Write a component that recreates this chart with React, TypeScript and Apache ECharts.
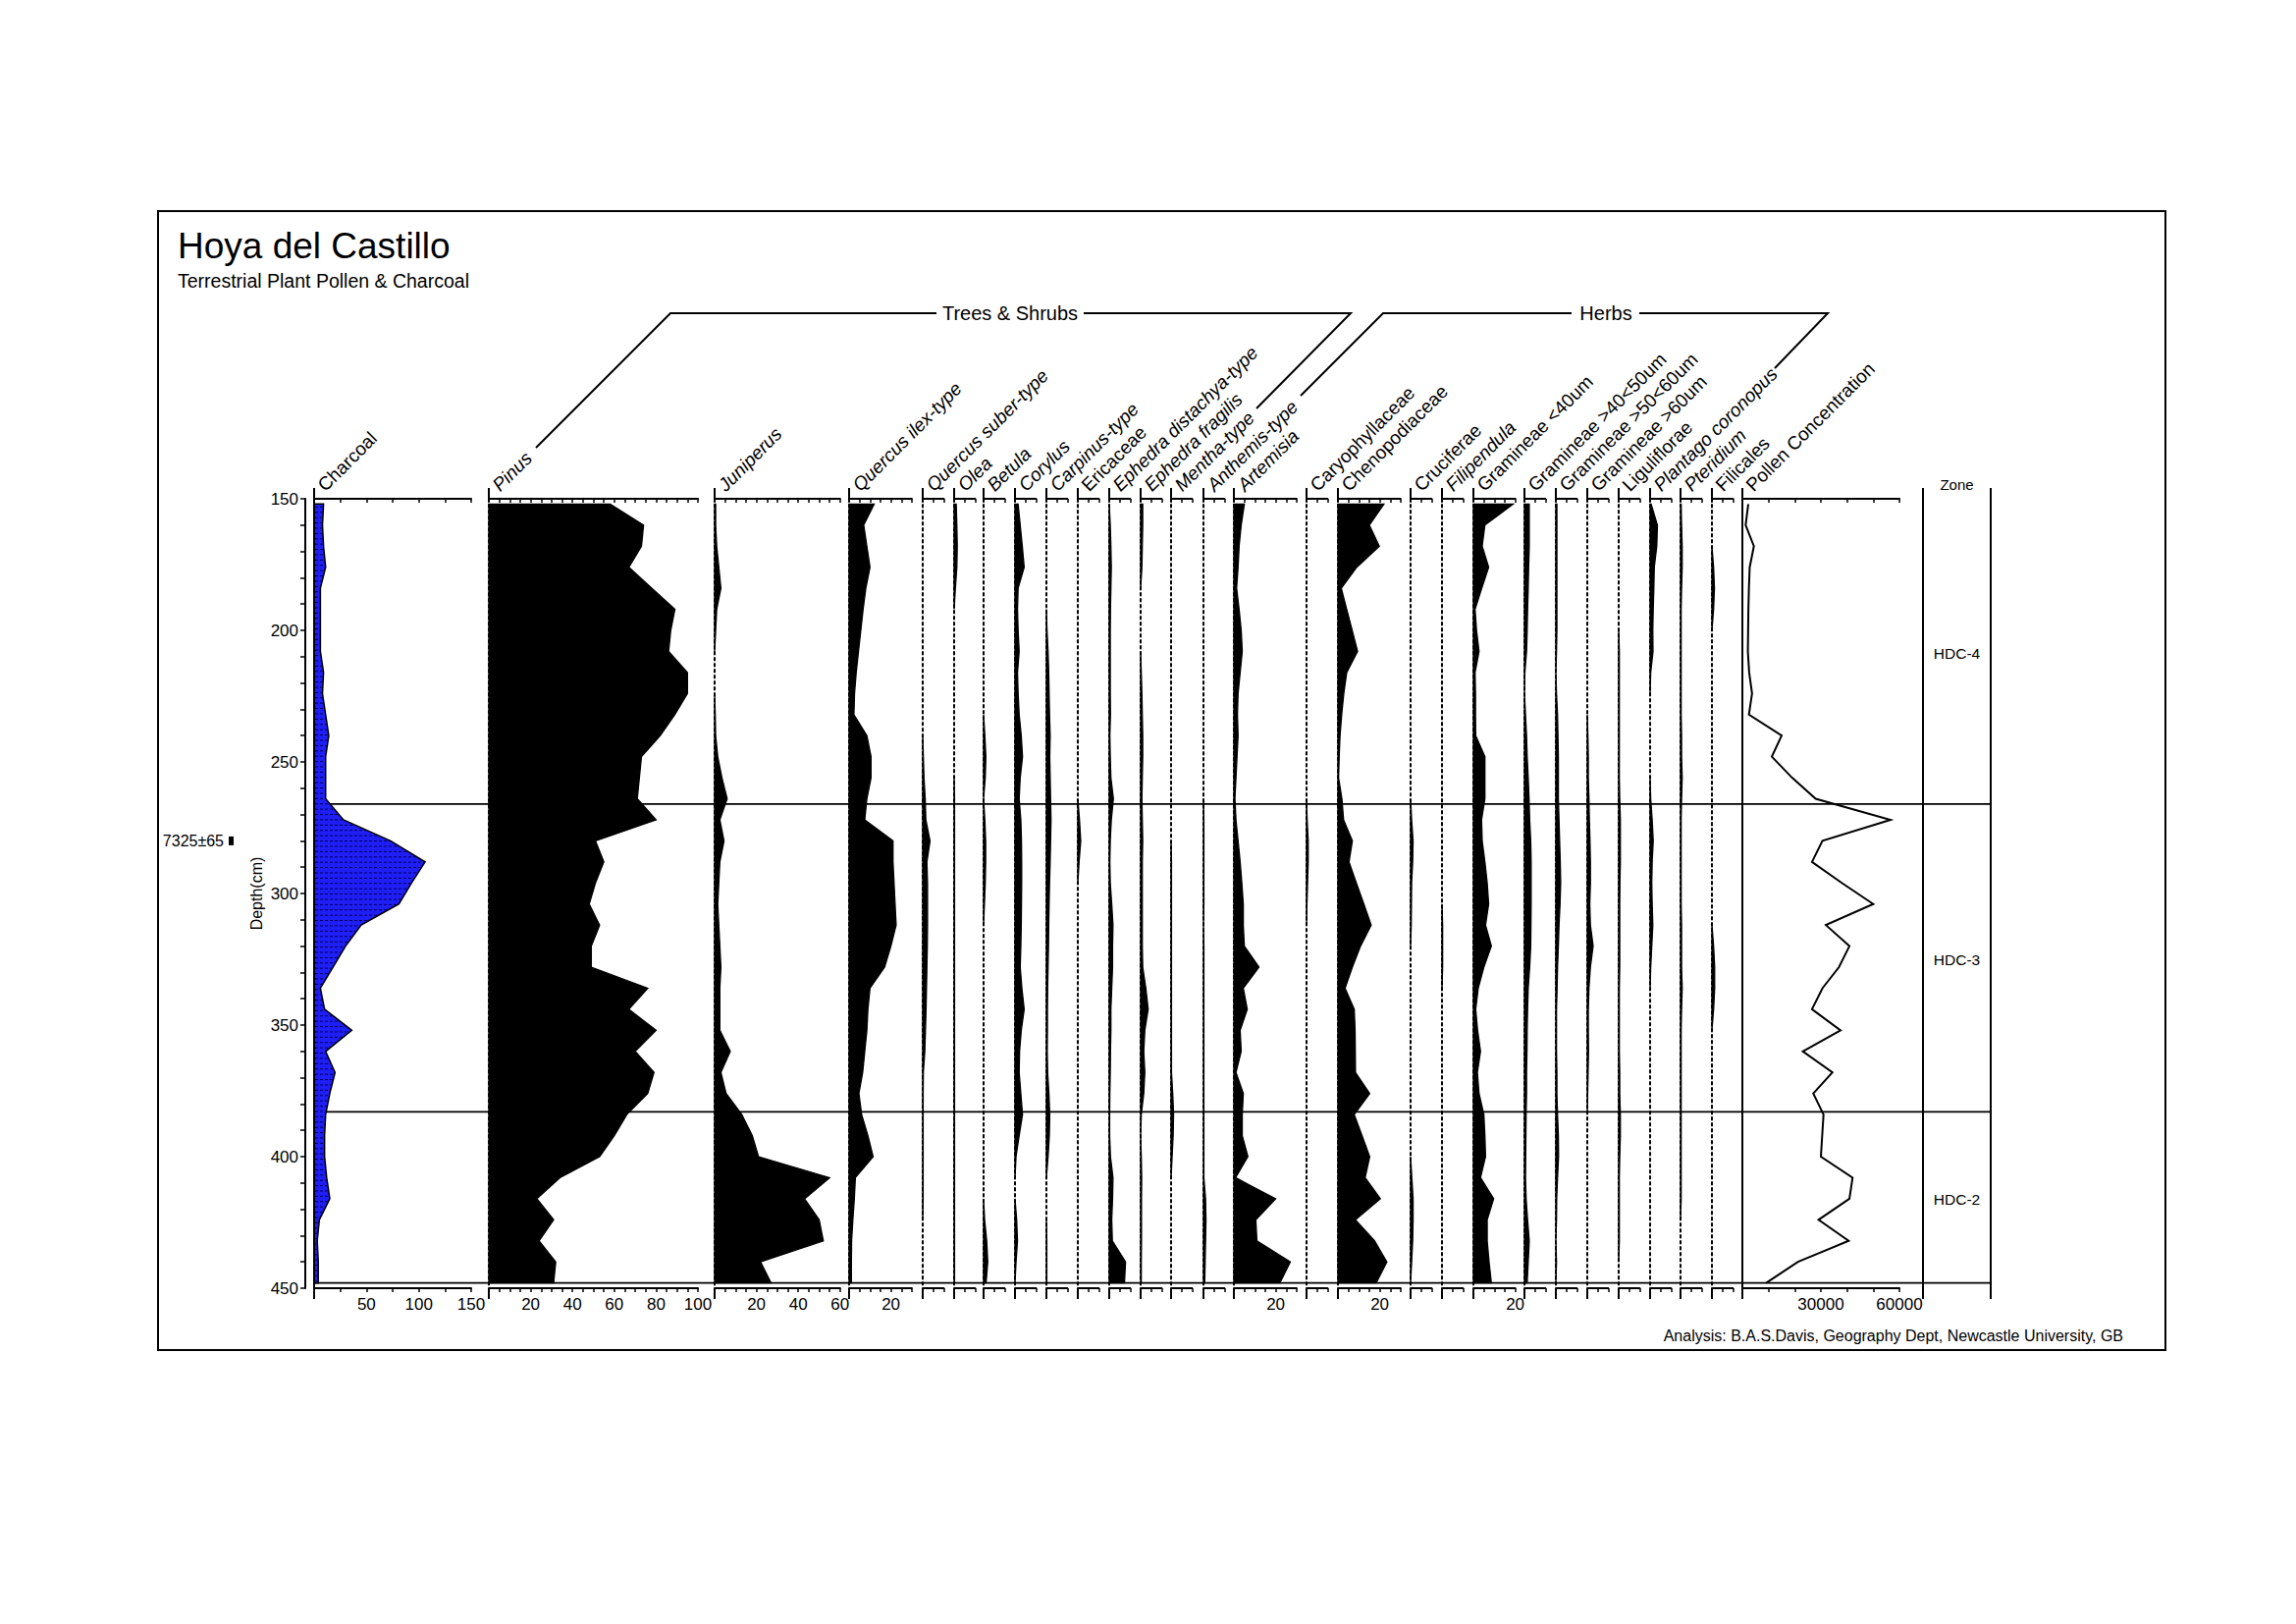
import React, { useEffect, useRef } from "react";
import * as echarts from "echarts";

// ---------------- DATA ----------------
const depths = [152,160,168,176,184,192,200,208,216,224,232,240,248,256,264,272,280,288,296,304,312,320,328,336,344,352,360,368,376,384,392,400,408,416,424,432,440,448];

const charcoal = [9,8,9,11,6,6,6,6,9,8,11,14,11,11,11,28,73,106,93,81,45,30,18,6,10,36,11,20,15,11,10,10,12,15,5,3,4,4];
const pinus = [58,74,73,67,78,89,87,86,95,95,89,82,73,72,71,80,51,55,51,48,53,49,49,76,67,80,70,79,76,66,60,53,34,23,31,24,32,31];
const juniperus = [0.5,0.5,1,2,3,1,0.5,0,0,0,0.3,0.5,1.5,3.5,6,2.5,4.5,2.5,2,1.5,2,2.5,3,2.5,2.5,2.5,7.5,3,5.5,13,18,21,55,43,50,52,22,27];
const quercusIlex = [12,7,8.5,10,8,6.7,5.6,4.5,3.4,2.6,2.3,8.5,10.5,10.5,8.5,7.5,21,21,21.5,22,22.5,20,17,10,9,8.5,7.5,6.5,4.7,6,9,11.5,3,2.5,1.8,1.2,1.1,1.1];
const quercusSuber = [0,0,0,0,0,0,0,0,0,0,0,0,0.3,0.6,1.2,1.5,3.5,2,2.3,2.3,2.3,2.2,2,1.8,1.6,1.3,1,0.3,0.2,0.2,0.2,0.2,0.2,0.2,0,0,0,0];
const olea = [1,1.3,1.5,1.3,0.6,0,0,0,0,0,0,0,0,0,0.2,0.2,0.2,0.2,0.2,0.2,0.2,0.2,0.2,0.2,0.2,0.2,0.2,0.2,0.2,0.2,0.2,0.2,0.2,0.2,0.2,0.2,0.2,0.2];
const betula = [0,0,0,0,0,0,0,0,0,0,0,0.6,1.1,0.8,0,0.6,1,1,0.8,0.4,0,0,0,0,0,0,0,0,0,0,0,0,0,0,0.5,1.5,2,1.2];
const corylus = [1.5,2.5,3.5,4.4,1.5,1.2,1.5,2,1.2,1.5,2,3,3.6,2.5,2,2.8,3.1,3.2,3.2,3.1,3,2.8,2.5,3.3,4.4,3,2.2,2,2.8,3.6,2,0.5,0,0,0.8,1.2,0.5,0];
const carpinus = [0,0,0,0,0,0,0.3,0.8,1.1,1.3,1.5,1.8,1.6,1.8,2,2.2,2,1.8,1.5,1.3,1.1,1,0.8,0.6,0.5,0.5,0.4,0.6,1.2,1.6,1.4,0.8,0,0,0,0.2,0.2,0.2];
const ericaceae = [0,0,0,0,0,0,0,0,0,0,0,0,0,0,0,0.8,1.4,0.6,0,0,0,0,0,0,0,0,0,0,0,0,0,0,0,0,0,0,0,0];
const ephedraDistachya = [0,0.5,0.8,1,0.8,0.6,0.5,0.5,0.5,0.5,0.6,0.3,0.5,0.8,2,1,0.5,0.3,0.5,1.2,1.8,1.6,1.6,1.2,0.8,0.8,0.6,0.5,0.3,0.2,0.2,0.6,1.8,1.6,1.2,1.5,7.8,7.3];
const ephedraFragilis = [1,1,0.8,0.6,0,0,0,0,0.3,0.6,0.8,1,1,0.8,0.6,0.8,1,0.8,0.8,0.8,0.8,0.8,1,2.5,3.6,2,1.5,2,1.5,0.3,0,0.3,0.5,0.4,0.4,0.4,0.3,0.3];
const mentha = [0,0,0,0,0,0,0,0,0,0,0,0,0,0,0,0,0,0.2,0.2,0.2,0.2,0.2,0.2,0.2,0.2,0.2,0.2,0.2,0.8,1.2,1,0.5,0,0,0,0,0,0];
const anthemis = [0,0,0,0,0,0,0,0,0,0,0,0,0,0,0,0.2,0.2,0.2,0.2,0.2,0,0.2,0.2,0.2,0.2,0.2,0.2,0.2,0.2,0.2,0.2,0.2,0.2,1,1.2,1,0.8,0.6];
const artemisia = [5,3.5,2.5,2,1.3,2.5,3.5,4,3,2,1.7,2,1.5,1,0.5,1,2,3,3.8,4.5,4.5,5,12,4.5,6.4,3,3.5,1,4.5,4,4,6.7,0.8,20,10.5,11,27,22];
const caryophyllaceae = [0,0,0,0,0,0,0,0,0,0,0,0,0,0,0,0.3,0.8,0.8,0.5,0.2,0,0,0,0,0,0,0,0,0,0,0,0,0,0,0,0,0,0];
const chenopodiaceae = [22,15,19.8,9,1.6,4.2,6.8,9.4,4.2,2.8,1.8,1,0.6,0.3,1.9,2.7,6.9,5.3,8.8,12.4,15.9,10.8,6.9,3.4,7.8,8.2,8.3,8.4,15.2,7.8,11.5,15.2,13,20.3,8.4,17.5,23.4,18.3];
const cruciferae = [0,0,0,0,0,0,0,0,0,0,0,0,0,0,0,0.5,1.2,1,0.5,0.4,0.3,0,0,0,0,0,0,0,0,0,0,0,0.6,1.2,1.2,1,0.5,0];
const filipendula = [0,0,0,0,0,0,0,0,0,0,0,0,0,0,0,0,0,0,0,0,0.3,0.3,0.3,0,0,0,0,0,0,0,0,0,0,0,0,0,0,0];
const gramineae40 = [19,5.5,4.2,7.3,4,0.8,1.5,2.7,0.8,1,1,1.1,5.5,5.5,5.5,3.9,4.2,5.5,6.6,7.3,5.8,8.6,5,2.3,1.1,2,3.4,1.9,2.7,5,5.5,5.8,3.4,9.7,6.6,6.6,7.5,8.6];
const gramineae4050 = [2.3,2.3,2.3,2,1.8,1.5,1.3,1,0.2,0,0.5,1,1.3,1.8,2.2,2.5,3,3.2,3.2,3.2,3.1,3,2.5,1.8,1.5,1.3,1.2,1,1,0.8,0.7,0.6,0.5,0.8,1.5,2.3,1.8,1.3];
const gramineae5060 = [0.5,0.5,0.5,0.5,0.5,0.5,0.5,0.3,0,0.3,0.8,1,1.2,1.2,1.2,1.5,1.8,2.1,2.3,2,1.5,1.2,0.8,0.6,0.3,0.3,0.3,0.5,0.5,0.8,1.2,1.3,0.8,0.4,0.3,0,0.3,0];
const gramineae60 = [0,0,0,0,0,0,0,0,0,0,0,0.3,0.5,0.5,0.8,1,1.3,1.5,1.5,1.2,1.5,2.8,1.5,0.8,0.5,0.5,0.6,0.4,0.2,0,0,0,0,0,0,0,0,0];
const liguliflorae = [0,0,0,0,0,0,0,0.3,0.3,0.3,0.3,0.3,0.3,0.3,0.5,0.8,0.8,0.8,0.6,0.5,0.5,0.5,0.5,0.3,0.3,0.3,0.3,0.5,0.5,0.8,0.8,0.5,0.3,0.3,0.3,0.3,0,0];
const plantago = [0.5,3.5,3.2,2,1.8,1.5,1.3,1.4,0.3,0,0,0,0,0,0.3,1,1.5,1,0.8,1,1.3,0.8,0.3,0,0,0,0,0,0,0,0,0,0,0,0,0,0,0];
const pteridium = [0.3,0.5,0.8,0.8,0.5,0.3,0.3,0.3,0.3,0.3,0.3,0.5,0.5,0.8,0.5,0.3,0.3,0.3,0.3,0.3,0.5,0.5,0.5,0.8,0.5,0.3,0.3,0.3,0.3,0.3,0.3,0.3,0.3,0.3,0,0,0,0];
const filicales = [0,0,0,0.8,1.2,0.8,0,0,0,0,0,0,0,0,0,0,0,0,0,0,0,0.8,1.3,1.3,0.8,0,0,0,0,0,0,0,0,0,0,0,0,0];
const pollenConcentration = [2250,1250,4400,2800,2500,2300,2200,2100,2600,3700,2500,15000,11250,19000,28000,56600,30600,26600,38000,50000,31900,40900,36900,30600,26600,37500,23100,34400,27100,31000,30500,30000,42100,40900,29100,40600,21250,9100];

const zoneNames = ["HDC-4", "HDC-3", "HDC-2"];
const zoneBounds = [150, 266, 383, 448];
const dateLabel = "7325\u00b165";
const dateDepth = 280;

// panels table (built from the arrays above)
const panels: any[] = [
  { name: "Charcoal", values: charcoal, max: 150, tick: 25, labelStep: 50, italic: false, kind: "charcoal" },
  { name: "Pinus", values: pinus, max: 100, tick: 5, labelStep: 20, italic: true, kind: "fill" },
  { name: "Juniperus", values: juniperus, max: 60, tick: 5, labelStep: 20, italic: true, kind: "fill" },
  { name: "Quercus ilex-type", values: quercusIlex, max: 30, tick: 5, labelStep: 20, italic: true, kind: "fill" },
  { name: "Quercus suber-type", values: quercusSuber, max: 10, tick: 5, labelStep: 0, italic: true, kind: "fill" },
  { name: "Olea", values: olea, max: 10, tick: 5, labelStep: 0, italic: true, kind: "fill" },
  { name: "Betula", values: betula, max: 10, tick: 5, labelStep: 0, italic: true, kind: "fill" },
  { name: "Corylus", values: corylus, max: 10, tick: 5, labelStep: 0, italic: true, kind: "fill" },
  { name: "Carpinus-type", values: carpinus, max: 10, tick: 5, labelStep: 0, italic: true, kind: "fill" },
  { name: "Ericaceae", values: ericaceae, max: 10, tick: 5, labelStep: 0, italic: false, kind: "fill" },
  { name: "Ephedra distachya-type", values: ephedraDistachya, max: 10, tick: 5, labelStep: 0, italic: true, kind: "fill" },
  { name: "Ephedra fragilis", values: ephedraFragilis, max: 10, tick: 5, labelStep: 0, italic: true, kind: "fill" },
  { name: "Mentha-type", values: mentha, max: 10, tick: 5, labelStep: 0, italic: true, kind: "fill" },
  { name: "Anthemis-type", values: anthemis, max: 10, tick: 5, labelStep: 0, italic: true, kind: "fill" },
  { name: "Artemisia", values: artemisia, max: 30, tick: 5, labelStep: 20, italic: true, kind: "fill" },
  { name: "Caryophyllaceae", values: caryophyllaceae, max: 10, tick: 5, labelStep: 0, italic: false, kind: "fill" },
  { name: "Chenopodiaceae", values: chenopodiaceae, max: 30, tick: 5, labelStep: 20, italic: false, kind: "fill" },
  { name: "Cruciferae", values: cruciferae, max: 10, tick: 5, labelStep: 0, italic: false, kind: "fill" },
  { name: "Filipendula", values: filipendula, max: 10, tick: 5, labelStep: 0, italic: true, kind: "fill" },
  { name: "Gramineae <40um", values: gramineae40, max: 20, tick: 5, labelStep: 20, italic: false, kind: "fill" },
  { name: "Gramineae >40<50um", values: gramineae4050, max: 10, tick: 5, labelStep: 0, italic: false, kind: "fill" },
  { name: "Gramineae >50<60um", values: gramineae5060, max: 10, tick: 5, labelStep: 0, italic: false, kind: "fill" },
  { name: "Gramineae >60um", values: gramineae60, max: 10, tick: 5, labelStep: 0, italic: false, kind: "fill" },
  { name: "Liguliflorae", values: liguliflorae, max: 10, tick: 5, labelStep: 0, italic: false, kind: "fill" },
  { name: "Plantago coronopus", values: plantago, max: 10, tick: 5, labelStep: 0, italic: true, kind: "fill" },
  { name: "Pteridium", values: pteridium, max: 10, tick: 5, labelStep: 0, italic: true, kind: "fill" },
  { name: "Filicales", values: filicales, max: 10, tick: 5, labelStep: 0, italic: false, kind: "fill" },
  { name: "Pollen Concentration", values: pollenConcentration, max: 60000, tick: 10000, labelStep: 30000, italic: false, kind: "line" },
];

// ---------------- LAYOUT ----------------
const FONT = "'Liberation Sans', Arial, Helvetica, sans-serif";
const W = 2339;
const H = 1654;
const TOP = 508;
const PLOT_H = 804;
const PX_PER_PCT = 2.13;
const PANEL_LEFT = [320, 498, 728, 865, 940, 972, 1002, 1034, 1066, 1098, 1130, 1162, 1193, 1226, 1257, 1331, 1363, 1437, 1469, 1501, 1553, 1585, 1617, 1649, 1681, 1712, 1744, 1775];
const PANEL_WIDTH = panels.map((p) => (p.kind === "charcoal" || p.kind === "line" ? 160 : p.max * PX_PER_PCT));
const STUB_TOP = 497;
const STUB_BOTTOM = 1323;
const ZONE_COL_L = 1959;
const ZONE_COL_R = 2028;
const LABEL_SIZE = 19;

function makeRenderItem(p: any) {
  return function (params: any, api: any) {
    if (params.dataIndex !== 0) return { type: "group", children: [] };
    const n = depths.length;
    const vals: number[] = p.values;
    const pt = (v: number, d: number) => api.coord([v, d]);
    const children: any[] = [];
    if (p.kind === "line") {
      const points = vals.map((v, k) => pt(v, depths[k]));
      children.push({ type: "polyline", shape: { points }, style: { stroke: "#000", lineWidth: 2, fill: null } });
      return { type: "group", children };
    }
    if (p.kind === "charcoal") {
      const curve = vals.map((v, k) => pt(v, depths[k]));
      const top = pt(0, depths[0]);
      const bot = pt(0, depths[n - 1]);
      const poly = [top, ...curve, bot];
      children.push({ type: "polygon", shape: { points: poly }, style: { fill: "#1e1ef5", stroke: null } });
      const x0 = top[0];
      for (let y = curve[0][1] + 3; y < curve[n - 1][1] - 1; y += 5.4) {
        let k = 0;
        while (k < n - 2 && curve[k + 1][1] < y) k++;
        const [xa, ya] = curve[k];
        const [xb, yb] = curve[k + 1];
        const t = (y - ya) / (yb - ya);
        const xc = xa + (xb - xa) * t;
        if (xc - x0 > 3) {
          children.push({ type: "line", shape: { x1: x0 + 1, y1: y, x2: xc - 1, y2: y }, style: { stroke: "#00005a", lineWidth: 1, lineDash: [3, 2] } });
        }
      }
      children.push({ type: "polyline", shape: { points: poly }, style: { stroke: "#000", lineWidth: 1.5, fill: null } });
      return { type: "group", children };
    }
    let k = 0;
    while (k < n) {
      if (vals[k] > 0) {
        const s = k;
        while (k < n && vals[k] > 0) k++;
        const e = k - 1;
        const pts: any[] = [];
        pts.push(s > 0 ? pt(0, depths[s - 1]) : pt(0, depths[s]));
        for (let j = s; j <= e; j++) pts.push(pt(vals[j], depths[j]));
        pts.push(e < n - 1 ? pt(0, depths[e + 1]) : pt(0, depths[e]));
        children.push({ type: "polygon", shape: { points: pts }, style: { fill: "#000", stroke: "#000", lineWidth: 1.3 } });
      } else {
        k++;
      }
    }
    return { type: "group", children };
  };
}

function buildOption() {
  const grid = panels.map((p, i) => ({ left: PANEL_LEFT[i], top: TOP, width: PANEL_WIDTH[i], height: PLOT_H }));
  const xAxis: any[] = [];
  panels.forEach((p, i) => {
    const base = {
      gridIndex: i,
      type: "value",
      min: 0,
      max: p.max,
      interval: p.tick,
      splitLine: { show: false },
      axisLine: { show: true, onZero: false, lineStyle: { color: "#000", width: 2 } },
    };
    xAxis.push({
      ...base,
      position: "top",
      axisTick: { show: true, inside: true, length: 4, lineStyle: { color: "#000", width: 1.5 } },
      axisLabel: { show: false },
    });
    xAxis.push({
      ...base,
      position: "bottom",
      axisTick: { show: true, inside: false, length: 4, lineStyle: { color: "#000", width: 1.5 } },
      axisLabel: {
        show: true,
        showMinLabel: false,
        showMaxLabel: true,
        margin: 8,
        fontSize: 17,
        fontFamily: FONT,
        color: "#000",
        formatter: (v: number) =>
          p.labelStep && v > 0 && Math.abs(v / p.labelStep - Math.round(v / p.labelStep)) < 1e-6 ? String(v) : "",
      },
    });
  });
  const yAxis = panels.map((p, i) => {
    if (i === 0) {
      return {
        gridIndex: 0,
        type: "value",
        inverse: true,
        min: 150,
        max: 450,
        interval: 50,
        offset: 9,
        position: "left",
        axisLine: { show: true, onZero: false, lineStyle: { color: "#000", width: 2 } },
        axisTick: { show: true, length: 5, lineStyle: { color: "#000", width: 1.5 } },
        minorTick: { show: true, splitNumber: 5, length: 5, lineStyle: { color: "#000", width: 1.5 } },
        axisLabel: { show: true, fontSize: 17, fontFamily: FONT, color: "#000", margin: 7 },
        splitLine: { show: false },
        name: "Depth(cm)",
        nameLocation: "middle",
        nameGap: 42,
        nameRotate: 90,
        nameTextStyle: { fontSize: 16, fontFamily: FONT, color: "#000" },
      };
    }
    return {
      gridIndex: i,
      type: "value",
      inverse: true,
      min: 150,
      max: 450,
      axisLine: {
        show: true,
        onZero: false,
        lineStyle: { color: "#000", width: 2, type: p.kind === "line" ? "solid" : [2.5, 3.5] },
      },
      axisTick: { show: false },
      axisLabel: { show: false },
      splitLine: { show: false },
    };
  });
  const series = panels.map((p, i) => ({
    type: "custom",
    name: p.name,
    xAxisIndex: 2 * i,
    yAxisIndex: i,
    clip: false,
    silent: true,
    z: 3,
    encode: { x: 0, y: 1 },
    data: p.values.map((v: number, k: number) => [v, depths[k]]),
    renderItem: makeRenderItem(p),
  }));
  return { animation: false, backgroundColor: "#fff", grid, xAxis, yAxis, series };
}

function buildGraphics(chart: any) {
  const yPix = (d: number) => chart.convertToPixel({ yAxisIndex: 0 }, d);
  const els: any[] = [];
  const txt = (x: number, y: number, text: string, size: number, opts: any = {}) => ({
    type: "text",
    x,
    y,
    z: 5,
    silent: true,
    rotation: opts.rotation || 0,
    style: {
      text,
      fontSize: size,
      fontFamily: FONT,
      fontStyle: opts.italic ? "italic" : "normal",
      fill: "#000",
      align: opts.align || "left",
      verticalAlign: opts.valign || "middle",
    },
  });
  const line = (x1: number, y1: number, x2: number, y2: number, w = 2, z = 5) => ({
    type: "line",
    z,
    silent: true,
    shape: { x1, y1, x2, y2 },
    style: { stroke: "#000", lineWidth: w },
  });
  const poly = (points: number[][]) => ({
    type: "polyline",
    z: 5,
    silent: true,
    shape: { points },
    style: { stroke: "#000", lineWidth: 2, fill: null },
  });

  els.push({ type: "rect", z: 5, silent: true, shape: { x: 161, y: 215, width: 2045, height: 1160 }, style: { fill: "none", stroke: "#000", lineWidth: 2 } });
  els.push(txt(181, 250, "Hoya del Castillo", 37));
  els.push(txt(181, 286, "Terrestrial Plant Pollen & Charcoal", 19.5));
  els.push(txt(2163, 1360, "Analysis: B.A.S.Davis, Geography Dept, Newcastle University, GB", 16, { align: "right" }));

  // group brackets
  els.push(poly([[546, 456], [683, 319], [954, 319]]));
  els.push(poly([[1104, 319], [1376, 319], [1280, 416]]));
  els.push(txt(1029, 319, "Trees & Shrubs", 20, { align: "center" }));
  els.push(poly([[1325, 403], [1409, 319], [1601, 319]]));
  els.push(poly([[1670, 319], [1862, 319], [1808, 375]]));
  els.push(txt(1636, 319, "Herbs", 20, { align: "center" }));

  // panel labels and borders
  panels.forEach((p, i) => {
    const x = PANEL_LEFT[i];
    els.push(txt(x + 7, 497, p.name, LABEL_SIZE, { italic: p.italic, rotation: Math.PI / 4 }));
    if (i === 0) {
      els.push(line(x, STUB_TOP, x, STUB_BOTTOM));
    } else {
      els.push(line(x, STUB_TOP, x, TOP));
      els.push(line(x, TOP + PLOT_H, x, STUB_BOTTOM));
    }
  });

  // zone column
  els.push(line(ZONE_COL_L, STUB_TOP, ZONE_COL_L, STUB_BOTTOM));
  els.push(line(ZONE_COL_R, STUB_TOP, ZONE_COL_R, STUB_BOTTOM));
  els.push(txt((ZONE_COL_L + ZONE_COL_R) / 2, 493, "Zone", 15, { align: "center" }));
  zoneNames.forEach((zn, i) => {
    const yc = yPix((zoneBounds[i] + zoneBounds[i + 1]) / 2);
    els.push(txt((ZONE_COL_L + ZONE_COL_R) / 2, yc + 2, zn, 15.5, { align: "center" }));
  });
  for (let i = 1; i < zoneBounds.length; i++) {
    const y = yPix(zoneBounds[i]);
    els.push(line(PANEL_LEFT[0], y, ZONE_COL_R, y, 1.8, 1));
  }

  // radiocarbon date
  const yd = yPix(dateDepth);
  els.push(txt(228, yd, dateLabel, 16, { align: "right" }));
  els.push({ type: "rect", z: 5, silent: true, shape: { x: 233, y: yd - 4.5, width: 5, height: 9 }, style: { fill: "#000" } });

  return els;
}

export default function App() {
  const ref = useRef<HTMLDivElement>(null);
  useEffect(() => {
    const el = ref.current as HTMLDivElement;
    const chart = echarts.init(el, undefined, { renderer: "svg" });
    chart.setOption(buildOption() as any);
    chart.setOption({ graphic: { elements: buildGraphics(chart) } } as any);
    return () => {
      chart.dispose();
    };
  }, []);
  return (
    <div
      ref={ref}
      style={{ position: "fixed", left: 0, top: 0, width: W, height: H, background: "#fff" }}
    />
  );
}
